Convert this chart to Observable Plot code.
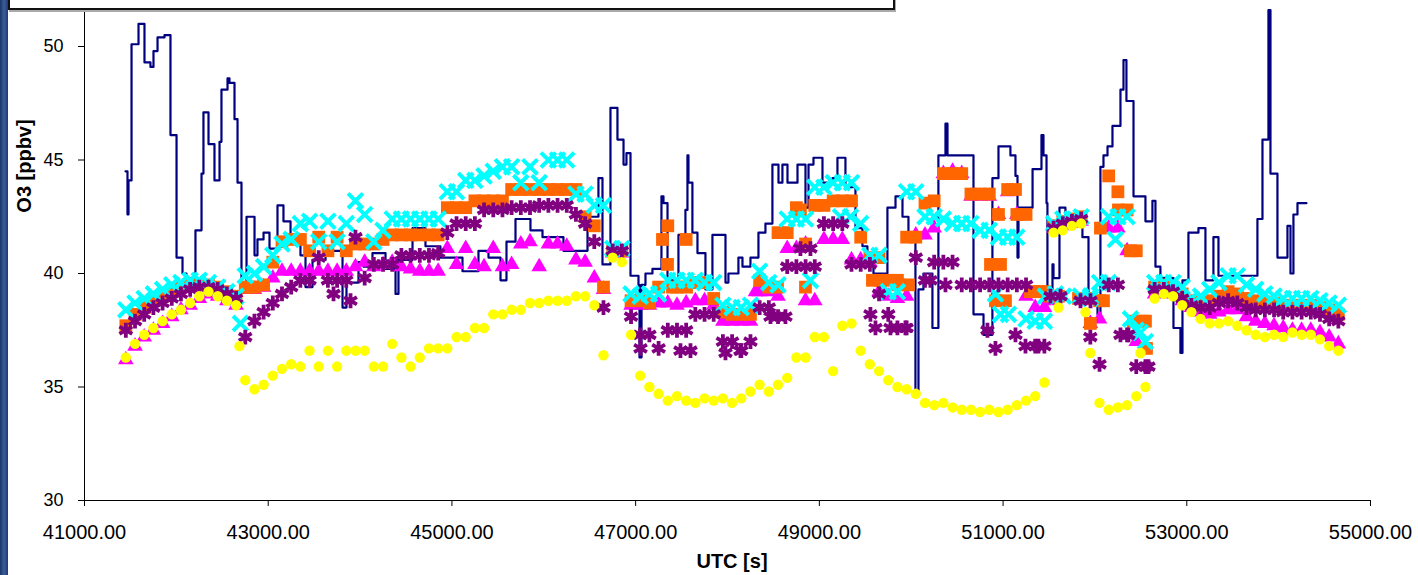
<!DOCTYPE html>
<html><head><meta charset="utf-8">
<script src="https://cdn.jsdelivr.net/npm/d3@7"></script>
<script src="https://cdn.jsdelivr.net/npm/@observablehq/plot@0.6"></script>
<style>
body{margin:0;background:#fff;}
#wrap{position:relative;width:1418px;height:575px;overflow:hidden;font-family:"Liberation Sans",Arial,sans-serif;background:#fff;}
#chart{position:absolute;left:0;top:0;}
#bar{position:absolute;left:0;top:0;width:8px;height:575px;background:linear-gradient(to right,#1a3466,#3a5d9c 50%,#1f3b70);}
#legend{position:absolute;left:8px;top:-22px;width:883px;height:28px;border:2px solid #111;background:#fff;box-shadow:1px 2px 0 #aaa;}
</style></head>
<body><div id="wrap"><div id="chart"></div><div id="bar"></div><div id="legend"></div></div>
<script>
// ---- data ----
const utc = [41450,41550,41650,41750,41850,41950,42050,42150,42250,42350,42450,42550,42650,
42750,42850,42950,43050,43150,43250,43350,43450,43550,43650,43750,43850,
43950,44050,44150,44250,44350,44450,44550,44650,44750,44850,44950,45050,
45150,45250,45350,45450,45550,45650,45750,45850,45950,46050,46150,46250,
46350,46450,46550,46650,46750,46850,46950,47050,47150,47250,47350,47450,
47550,47650,47750,47850,47950,48050,48150,48250,48350,48450,48550,48650,
48750,48850,48950,49050,49150,49250,49350,49450,49550,49650,49750,49850,
49950,50050,50150,50250,50350,50450,50550,50650,50750,50850,50950,51050,
51150,51250,51350,51450,51550,51650,51750,51850,51950,52050,52150,52250,
52350,52450,52550,52650,52750,52850,52950,53050,53150,53250,53350,53450,
53550,53650,53750,53850,53950,54050,54150,54250,54350,54450,54550,54650];

const yellowO3 = [36.3,36.9,37.3,37.6,37.9,38.2,38.4,38.7,39.0,39.2,39.0,38.8,38.6,
35.3,34.9,35.1,35.5,35.8,36.0,35.9,36.6,35.9,36.6,35.9,36.6,
36.6,36.6,35.9,35.9,36.9,36.3,35.9,36.3,36.7,36.7,36.7,37.2,
37.2,37.6,37.6,38.2,38.2,38.4,38.4,38.7,38.7,38.8,38.8,38.8,
39.0,39.0,38.6,36.4,40.7,40.5,37.3,35.5,35.0,34.7,34.4,34.6,
34.4,34.3,34.5,34.4,34.5,34.3,34.5,34.8,35.1,34.8,35.1,35.4,
36.3,36.3,37.2,37.2,35.7,37.7,37.8,36.6,36.0,35.7,35.3,35.0,
34.9,34.7,34.3,34.2,34.3,34.1,34.0,34.0,33.9,34.0,33.9,34.0,
34.2,34.4,34.6,35.2,41.8,41.9,42.1,42.2,36.5,34.3,34.0,34.1,
34.2,34.6,35.0,38.9,39.1,39.0,38.6,38.3,38.0,37.8,37.8,37.9,
37.7,37.5,37.3,37.2,37.3,37.2,37.4,37.3,37.3,37.1,36.8,36.6];

const purpleO3 = [37.5,37.9,38.2,38.5,38.7,38.9,39.1,39.3,39.4,39.4,39.3,39.1,38.9,
37.2,37.9,38.3,38.7,39.1,39.4,39.7,39.7,40.7,39.7,39.7,39.7,
41.6,39.8,40.4,40.4,40.4,40.8,40.8,40.8,40.8,40.9,41.8,42.2,
42.2,42.2,42.8,42.8,42.8,42.9,42.9,42.9,43.0,43.0,43.0,43.0,
42.6,42.2,41.4,38.5,41.0,41.0,38.1,37.3,37.3,36.7,37.5,37.5,
37.5,38.2,38.2,38.2,37.0,37.0,36.6,37.0,38.5,38.5,38.1,40.3,
40.3,40.3,40.3,42.2,42.2,42.2,40.4,40.4,40.4,39.1,38.2,37.6,
37.6,40.7,39.7,40.5,40.5,40.5,39.5,39.5,39.5,39.5,39.5,39.5,
39.5,39.5,36.8,36.8,42.0,42.2,42.3,42.4,37.2,36.0,39.5,39.5,
37.3,35.9,35.9,39.3,39.3,39.2,38.9,38.6,38.5,38.5,38.7,38.8,
38.7,38.5,38.4,38.4,38.4,38.3,38.3,38.3,38.3,38.2,38.0,37.9];

const cyanO3 = [38.4,38.7,38.9,39.1,39.3,39.5,39.6,39.7,39.7,39.6,39.4,39.2,39.0,
39.9,40.0,40.3,40.8,41.3,41.5,42.2,42.3,41.4,42.3,41.4,42.2,
43.2,42.6,41.4,41.9,42.4,42.4,42.4,42.4,42.4,42.4,43.6,43.6,
44.1,44.1,44.3,44.5,44.7,44.7,44.0,44.7,44.0,45.0,45.0,45.0,
43.5,43.5,43.0,43.0,41.1,41.1,39.1,39.0,39.1,39.1,39.7,39.7,
39.7,39.7,39.6,39.6,38.6,38.5,38.5,38.6,40.1,39.6,39.5,42.4,
42.4,42.4,43.8,43.8,44.0,44.0,44.0,42.2,40.8,40.8,39.2,39.2,
43.6,43.6,42.5,42.5,42.4,42.2,42.2,42.2,41.9,41.9,41.6,41.6,
41.6,38.0,37.9,37.9,42.2,42.4,42.4,42.5,38.9,39.6,42.5,42.5,
42.5,37.5,37.0,39.6,39.6,39.6,39.4,38.9,39.0,39.3,39.6,39.9,
39.9,39.5,39.3,39.1,39.0,38.9,38.9,38.9,38.9,38.8,38.7,38.6];

const orangeO3 = [37.7,38.2,38.5,38.8,39.0,39.2,39.4,39.5,39.5,39.5,39.4,39.2,39.0,
39.4,39.4,39.5,40.5,41.4,41.5,41.5,41.0,41.6,41.0,41.6,41.0,
41.3,41.3,41.3,41.5,41.7,41.7,41.7,41.7,41.7,41.7,42.9,42.9,
42.9,43.2,43.2,43.2,43.2,43.7,43.7,43.7,43.7,43.7,43.7,43.7,
43.7,42.5,42.1,39.4,41.0,41.0,38.8,38.8,38.7,39.4,42.1,39.4,
41.5,39.6,39.6,38.9,38.3,38.2,38.2,38.2,39.7,39.4,41.8,41.8,
42.9,41.3,43.0,43.0,43.2,43.2,43.2,41.6,40.7,40.7,39.7,39.7,
41.6,41.6,43.1,43.2,44.4,44.4,44.4,43.5,43.5,43.5,42.6,43.7,
42.6,42.6,39.2,39.2,42.1,42.3,42.4,42.5,37.8,38.8,44.3,43.6,
42.8,41.0,37.9,39.4,39.5,39.4,39.1,38.8,38.7,38.8,39.0,39.2,
39.1,38.9,38.8,38.7,38.7,38.6,38.6,38.6,38.6,38.5,38.4,38.2];

const magentaO3 = [36.2,36.8,37.2,37.5,37.8,38.1,38.4,38.6,38.9,39.1,39.0,38.8,38.6,
39.3,39.3,39.4,39.8,40.1,40.1,40.1,40.1,40.1,40.1,40.1,40.1,
40.3,40.5,40.3,40.4,40.5,40.3,40.2,40.1,40.1,40.1,41.1,40.4,
41.1,40.4,40.3,41.1,40.3,40.4,41.3,41.4,40.3,41.3,41.3,41.2,
40.6,40.5,39.8,39.3,40.9,40.9,38.6,38.6,38.6,38.7,38.7,38.6,
38.7,38.8,38.8,38.6,37.9,37.9,37.9,37.9,39.2,39.2,39.0,41.1,
41.1,41.3,38.8,41.5,41.5,41.5,40.6,40.6,40.5,39.2,39.0,38.9,
39.0,41.7,41.7,42.0,44.4,44.5,44.4,43.4,43.4,43.4,42.6,43.6,
42.6,39.0,38.5,38.5,42.0,42.1,42.2,42.3,37.8,38.0,42.0,42.0,
41.0,37.0,36.8,39.1,39.2,39.1,38.8,38.5,38.3,38.2,38.3,38.4,
38.4,38.1,37.9,37.8,37.7,37.6,37.5,37.5,37.5,37.4,37.2,36.9];

// second-level scatter points (same series, overlapping times)
const orangeExtraT = [42807,47292,47347,47401,47554,48544,48849,48794,49578,49665,49861,49970,50863,50972,50917,51026,51135,51298,51407,51516,51603,51821,51930,52060,52093,52256,52420,52517,52561,52387];
const orangeExtraV = [39.4,41.5,40.4,39.4,39.4,39.4,39.4,42.8,39.7,39.7,39.5,39.5,40.4,40.4,38.8,38.8,43.7,39.2,39.2,39.0,39.0,38.9,38.9,42.0,38.8,42.8,37.9,37.9,36.7,41.0];
const cyanExtraT = [42698,48903,49230,49339,50917,50972,51059,51461,51570,51657,51843,51952,52147,52223,52387,52496];
const cyanExtraV = [37.8,39.7,42.5,42.5,39.1,38.2,38.2,39.0,39.1,39.0,39.0,39.0,39.6,41.5,38.0,37.4];
const purpleExtraT = [43711,43896,47053,47488,47597,47978,48141,48468,48631,48794,48903,49556,49611,49774,49937,50209,50373,50830,50917,51135,51244,51385,51516,51625,51843,51952,52278,52365,52583];
const purpleExtraV = [39.1,38.8,36.7,36.6,36.6,36.5,36.6,38.1,38.1,41.1,41.1,38.2,37.6,37.6,37.6,39.7,39.5,37.5,36.7,37.3,36.8,36.8,39.0,39.0,38.8,38.8,37.3,37.3,35.9];
const magentaExtraT = [48305,48849,51494,51864];
const magentaExtraV = [39.2,38.8,38.8,38.8];
const yellowExtraT = [42687,51603,51897,52496];
const yellowExtraV = [36.8,38.5,38.3,36.5];

// observed O3 (step line)
const obsT = [41446,41468,41479,41512,41588,41653,41718,41751,41795,41871,41936,42002,42067,42110,42208,42274,42295,42350,42415,42470,42491,42557,42578,42633,42666,42709,42764,42851,42883,42949,43014,43101,43166,43243,43351,43406,43482,43624,43809,43852,43983,44037,44135,44277,44386,44418,44571,44712,44875,45115,45289,45398,45529,45594,45692,45855,45986,46214,46476,46595,46639,46726,46802,46868,46900,46944,47031,47042,47064,47107,47183,47281,47303,47347,47466,47542,47564,47575,47618,47673,47760,47836,47978,48010,48119,48163,48250,48337,48413,48489,48555,48598,48653,48762,48849,48882,48936,49034,49143,49197,49284,49393,49469,49523,49589,49741,49829,49905,49970,50046,50079,50133,50231,50296,50373,50395,50678,50787,50884,50950,51080,51135,51157,51168,51321,51418,51440,51473,51483,51538,51549,51614,51679,51864,51930,52028,52060,52093,52137,52191,52278,52311,52343,52420,52550,52626,52659,52713,52855,52931,52953,53018,53127,53203,53290,53345,53769,53824,53889,53911,53987,54096,54129,54161,54205,54303];
const obsV = [44.5,42.6,44.1,50.1,51.0,49.3,49.1,49.8,50.4,50.5,46.1,40.7,40.0,39.8,41.9,44.4,47.1,45.7,44.1,45.8,48.1,48.6,48.4,46.8,44.0,39.6,42.5,40.8,41.5,41.8,41.1,43.0,42.3,41.4,40.8,39.4,40.6,41.0,38.5,39.6,40.5,40.3,40.9,40.2,39.1,40.6,42.0,41.2,40.7,40.1,41.0,40.7,39.7,41.4,42.4,41.9,41.6,41.0,42.5,44.2,40.4,47.3,45.9,44.8,45.3,39.9,39.5,36.3,39.5,40.0,40.2,43.4,43.1,39.7,41.7,42.8,45.2,44.0,41.8,40.9,39.3,41.7,39.6,40.0,40.7,40.3,40.7,41.8,42.2,44.8,44.0,44.8,44.0,44.8,42.9,44.8,45.1,44.0,44.2,45.1,43.8,42.0,41.2,40.7,40.0,42.9,43.4,42.5,41.6,34.8,39.3,40.0,37.6,45.2,46.6,45.2,38.2,37.3,44.2,45.6,45.2,44.3,40.7,42.9,44.6,46.1,45.2,43.1,39.1,40.4,39.8,42.9,42.6,41.6,38.9,38.2,44.7,45.2,45.6,46.5,48.1,49.4,47.6,43.4,42.3,43.2,40.3,39.8,37.6,36.5,39.7,41.8,42.0,39.7,41.6,39.9,42.4,45.9,51.6,44.4,40.7,42.1,40.0,42.6,43.1,43.1];

const xTicks = [41000,43000,45000,47000,49000,51000,53000,55000];
const yTicks = [30,35,40,45,50];
const xTitle = "UTC [s]";
const yTitle = "O3 [ppbv]";

// ---- build ----
const series = (vals, et, ev) => utc.map((t,i)=>({t, v: vals[i]})).filter(d=>d.v!=null)
  .concat(et.map((t,i)=>({t, v: ev[i]})));
const obs = obsT.map((t,i)=>({t, v: obsV[i]}));

const plot = Plot.plot({
  width:1418, height:575,
  marginLeft:84, marginRight:48, marginTop:0.6, marginBottom:75,
  style:{fontFamily:'"Liberation Sans", Arial, sans-serif', background:'transparent', color:'#000'},
  x:{domain:[41000,55000]},
  y:{domain:[30,52]},
  marks:[
    Plot.axisX({ticks:xTicks, tickFormat:d3.format(".2f"), tickSize:6, tickPadding:18, label:null, fontSize:20}),
    Plot.axisY({ticks:yTicks, tickSize:6, tickPadding:15, label:null, fontSize:18}),
    Plot.line(obs, {x:"t", y:"v", curve:"step-after", stroke:"#000080", strokeWidth:2.2}),
    Plot.dot(series(magentaO3, magentaExtraT, magentaExtraV), {x:"t", y:"v", symbol:"triangle", fill:"#ff00ff", r:5.8}),
    Plot.dot(series(orangeO3, orangeExtraT, orangeExtraV), {x:"t", y:"v", symbol:"square", fill:"#ff6600", r:7.2}),
    Plot.dot(series(cyanO3, cyanExtraT, cyanExtraV), {x:"t", y:"v", symbol:"times", stroke:"#00ffff", strokeWidth:4, r:6.8}),
    Plot.dot(series(purpleO3, purpleExtraT, purpleExtraV), {x:"t", y:"v", symbol:"asterisk", stroke:"#800080", strokeWidth:3.8, r:7}),
    Plot.dot(series(yellowO3, yellowExtraT, yellowExtraV), {x:"t", y:"v", symbol:"circle", fill:"#ffff00", r:5.2}),
    Plot.ruleY([30], {stroke:"#000", strokeWidth:1}),
    Plot.ruleX([41000], {stroke:"#000", strokeWidth:1})
  ]
});
document.getElementById("chart").appendChild(plot);
const svg = d3.select(plot);
svg.append("text").attr("transform","translate(31,166) rotate(-90)").attr("text-anchor","middle")
  .attr("font-weight","bold").attr("font-size",20).attr("fill","#000").text(yTitle);
svg.append("text").attr("x",732).attr("y",568).attr("text-anchor","middle")
  .attr("font-weight","bold").attr("font-size",20).attr("fill","#000").text(xTitle);
</script>
</body></html>
